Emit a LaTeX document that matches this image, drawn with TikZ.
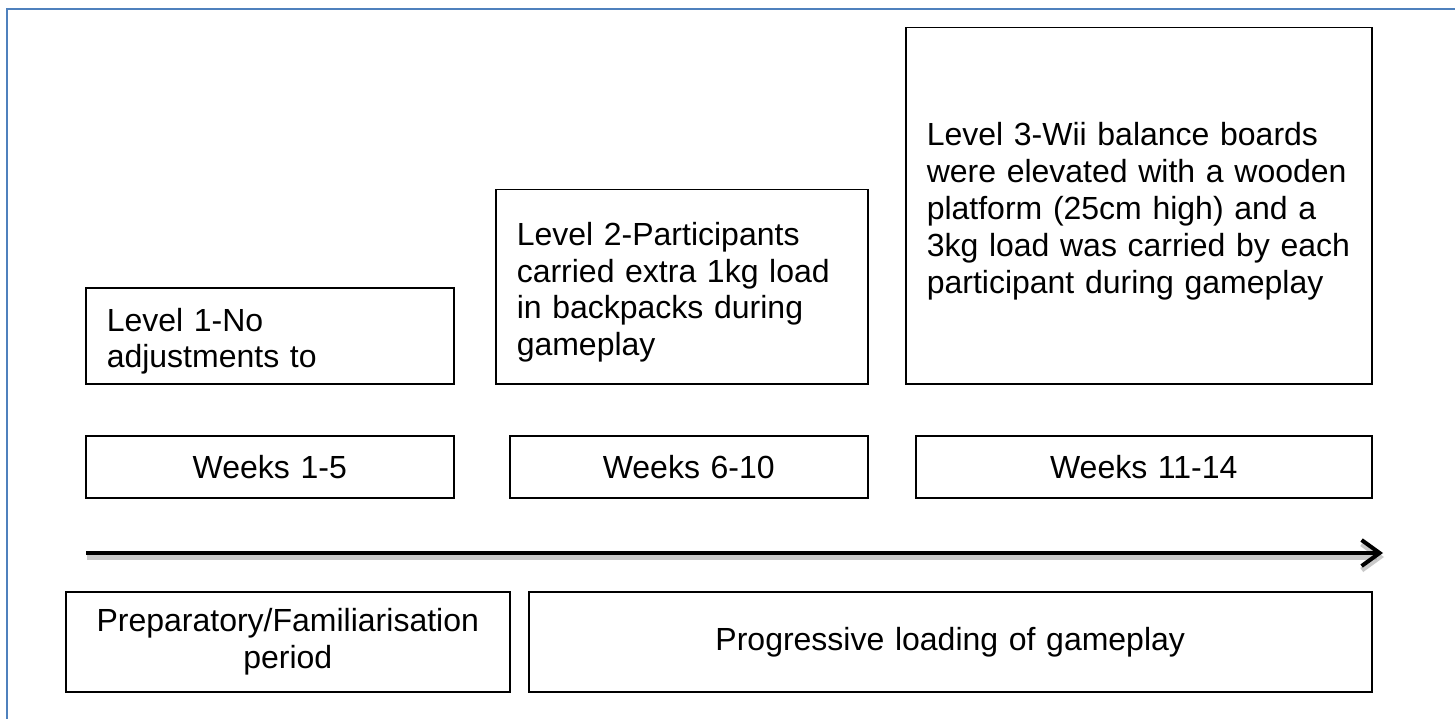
\documentclass[tikz,border=0pt]{standalone}
\usepackage{fontspec}
\setmainfont{Liberation Sans}
\usetikzlibrary{arrows.meta}
\definecolor{frameblue}{RGB}{79,129,189}
\begin{document}
\begin{tikzpicture}[x=1pt,y=-1pt,
  box/.style={draw=black, line width=1.5pt, anchor=north west, inner xsep=21pt, inner ysep=0pt,
    font=\fontsize{32}{36.8}\selectfont},
  leftbox/.style={box, align=left, execute at begin node={\rule{0pt}{34pt}}},
  midbox/.style={box, align=center},
  timeline/.style={line width=4pt, -{Straight Barb[length=18pt,width=26pt]}},
  timeshadow/.style={line width=5pt, black!35, opacity=0.6, -{Straight Barb[length=18pt,width=26pt]}}
]
\useasboundingbox (0,0) rectangle (1455,719);
\fill[white] (0,0) rectangle (1455,719);

% page frame, open to the right and bottom
\coordinate (fb) at (7,719);
\coordinate (fc) at (7,9);
\coordinate (fr) at (1455,9);
\draw[frameblue, line width=2pt] (fb) -- (fc) -- (fr);

% level descriptions
\node[leftbox, text width=326pt, minimum width=368pt, minimum height=96pt] (lvl1) at (85,287)
  {Level 1-No\\adjustments to};
\node[leftbox, text width=330pt, minimum width=372pt, minimum height=194pt] (lvl2) at (495,189)
  {Level 2-Participants\\carried extra 1kg load\\in backpacks during\\gameplay};
\node[leftbox, text width=424pt, minimum width=466pt, minimum height=356pt] (lvl3) at (905,27)
  {Level 3-Wii balance boards\\were elevated with a wooden\\platform (25cm high) and a\\3kg load was carried by each\\participant during gameplay};

% week ranges
\node[midbox, text width=326pt, minimum width=368pt, minimum height=62pt] (wk1) at (85,435) {Weeks 1-5};
\node[midbox, text width=316pt, minimum width=358pt, minimum height=62pt] (wk2) at (509,435) {Weeks 6-10};
\node[midbox, text width=414pt, minimum width=456pt, minimum height=62pt] (wk3) at (915,435) {Weeks 11-14};

% time axis
\coordinate (t0) at (86,553);
\coordinate (t1) at (1383,553);
\coordinate (s0) at (87,557);
\coordinate (s1) at (1384,557);
\draw[timeshadow] (s0) -- (s1);
\draw[timeline] (t0) -- (t1);

% phases
\node[midbox, text width=402pt, minimum width=444pt, minimum height=100pt] (prep) at (65,591)
  {Preparatory/Familiarisation\\period};
\node[midbox, text width=801pt, minimum width=843pt, minimum height=100pt] (prog) at (528,591)
  {Progressive loading of gameplay};
\end{tikzpicture}
\end{document}
